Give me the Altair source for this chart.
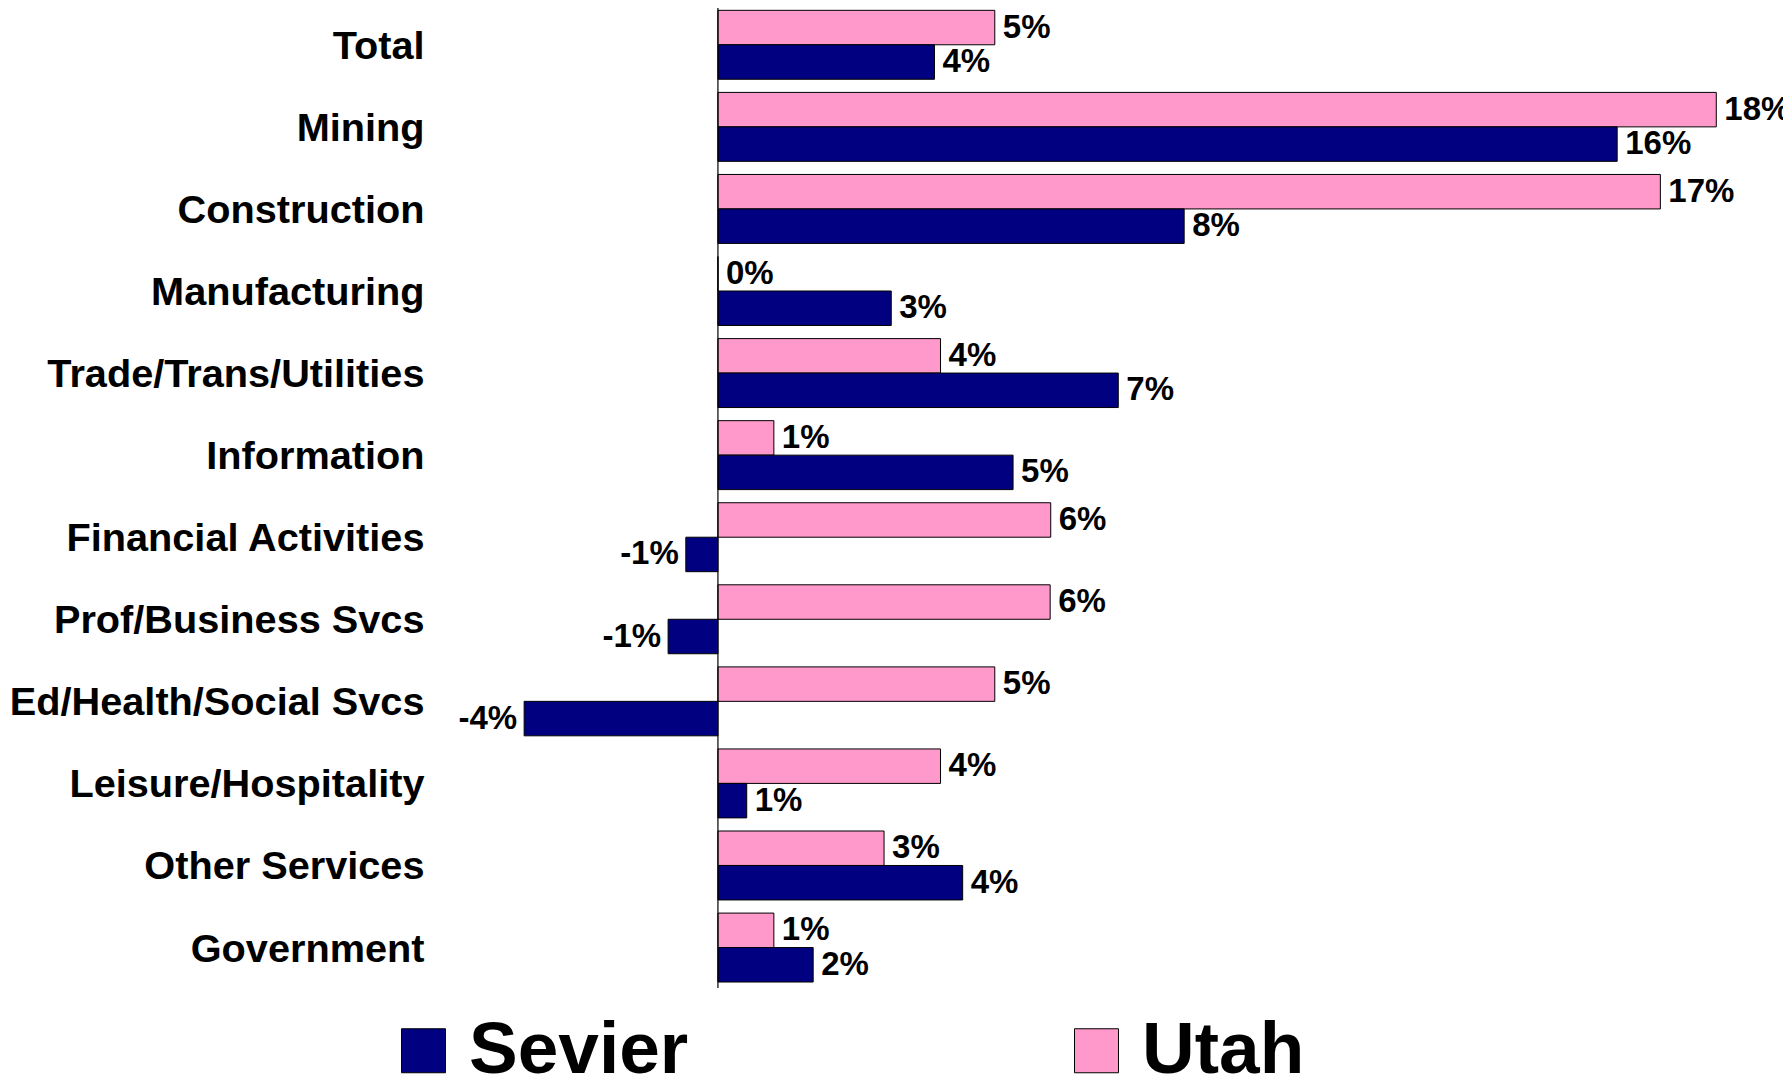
import altair as alt
import pandas as pd

categories = ["Total", "Mining", "Construction", "Manufacturing",
              "Trade/Trans/Utilities", "Information", "Financial Activities",
              "Prof/Business Svcs", "Ed/Health/Social Svcs",
              "Leisure/Hospitality", "Other Services", "Government"]
utah = [5.0, 18.03, 17.02, 0.0, 4.02, 1.01, 6.01, 6.0, 5.0, 4.02, 3.0, 1.01]
sevier = [3.91, 16.24, 8.42, 3.13, 7.23, 5.33, -0.58, -0.90, -3.50, 0.52, 4.42, 1.72]
series = ["Sevier", "Utah"]
colors = ["#000080", "#FF99CC"]

rows = []
for c, u, s in zip(categories, utah, sevier):
    rows.append({"cat": c, "series": "Utah", "value": u})
    rows.append({"cat": c, "series": "Sevier", "value": s})
df = pd.DataFrame(rows)
df["label"] = [f"{int(round(v))}%" for v in df["value"]]

FONT = "Liberation Sans"

xs = alt.Scale(domain=[-5.2, 19.0], nice=False, zero=False)
ys = alt.Scale(paddingInner=0.16, paddingOuter=0.0506, align=0.28)

base = alt.Chart(df).encode(
    y=alt.Y("cat:N", sort=categories, scale=ys,
            axis=alt.Axis(title=None, domain=False, ticks=False, labelFontSize=39.7,
                          labelFont=FONT, labelFontWeight="bold", labelColor="black",
                          labelPadding=6, labelOffset=2, labelLimit=1000)),
    yOffset=alt.YOffset("series:N", sort=["Utah", "Sevier"],
                        scale=alt.Scale(paddingInner=0, paddingOuter=0)),
)

bars = base.mark_bar(stroke="black", strokeWidth=1).encode(
    x=alt.X("value:Q", scale=xs, axis=None),
    color=alt.Color("series:N", scale=alt.Scale(domain=series, range=colors),
                    legend=alt.Legend(title=None, orient="none", legendX=-43, legendY=1006,
                                      direction="horizontal", symbolType="square",
                                      symbolSize=1936, symbolStrokeColor="black",
                                      symbolStrokeWidth=1, symbolOpacity=1,
                                      labelFontSize=73, labelFont=FONT,
                                      labelFontWeight="bold", labelColor="black",
                                      labelOffset=9, columnPadding=371,
                                      labelLimit=1000, padding=0)),
)

pos_text = base.transform_filter("datum.value >= 0").mark_text(
    align="left", baseline="middle", dx=8, fontSize=33, font=FONT,
    fontWeight="bold", color="black").encode(
    x=alt.X("value:Q", scale=xs, axis=None), text="label:N")

neg_text = base.transform_filter("datum.value < 0").mark_text(
    align="right", baseline="middle", dx=-7, fontSize=33, font=FONT,
    fontWeight="bold", color="black").encode(
    x=alt.X("value:Q", scale=xs, axis=None), text="label:N")

zero_rule = alt.Chart(pd.DataFrame({"z": [0]})).mark_rule(color="black", strokeWidth=1.2).encode(
    x=alt.X("z:Q", scale=xs, axis=None))

chart = alt.layer(bars, pos_text, neg_text, zero_rule).properties(
    width=1340, height=980,
    autosize=alt.AutoSizeParams(type="none"),
    padding={"left": 422, "top": 0, "right": 13, "bottom": 89},
    background="white",
).configure_view(stroke=None)

chart.save("out.html", embed_options={"renderer": "svg", "actions": False})
